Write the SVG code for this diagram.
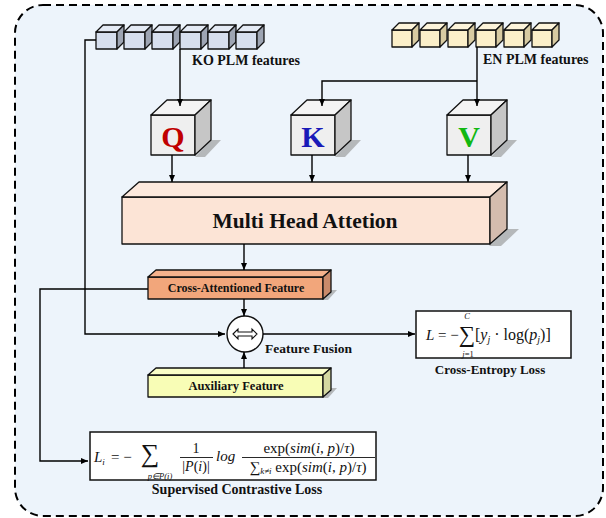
<svg xmlns="http://www.w3.org/2000/svg" width="606" height="518" viewBox="0 0 606 518">
<defs>
<marker id="ah" markerWidth="8" markerHeight="8" refX="7" refY="4" orient="auto" markerUnits="userSpaceOnUse">
<path d="M0,1 L7,4 L0,7 Z" fill="#000"/>
</marker>
<style>
.lbl{font-family:"Liberation Serif","Times New Roman",serif;font-weight:bold;fill:#111;}
.m{font-family:"Liberation Serif","Times New Roman",serif;fill:#111;}
.mi{font-family:"Liberation Serif","Times New Roman",serif;font-style:italic;fill:#111;}
.edge{fill:none;stroke:#000;stroke-width:1.4;}
.cs{stroke:#111;stroke-width:1.3;stroke-linejoin:round;}
.shadow{fill:#8f8f8f;opacity:0.6;}
</style>
</defs>
<rect x="0" y="0" width="606" height="518" fill="#fff"/>
<rect x="15" y="5" width="588" height="511" rx="28" fill="#EDF4FB" stroke="#000" stroke-width="2" stroke-dasharray="8,5"/>

<g id="ko-features">
<g class="cs">
<path d="M96,32 h21 v17 h-21 z" fill="#D7DFEE"/><path d="M96,32 l7,-7 h21 l-7,7 z" fill="#E4EAF4"/><path d="M117,32 l7,-7 v17 l-7,7 z" fill="#9EA5B3"/>
<path d="M124,32 h21 v17 h-21 z" fill="#D7DFEE"/><path d="M124,32 l7,-7 h21 l-7,7 z" fill="#E4EAF4"/><path d="M145,32 l7,-7 v17 l-7,7 z" fill="#9EA5B3"/>
<path d="M152,32 h21 v17 h-21 z" fill="#D7DFEE"/><path d="M152,32 l7,-7 h21 l-7,7 z" fill="#E4EAF4"/><path d="M173,32 l7,-7 v17 l-7,7 z" fill="#9EA5B3"/>
<path d="M180,32 h21 v17 h-21 z" fill="#D7DFEE"/><path d="M180,32 l7,-7 h21 l-7,7 z" fill="#E4EAF4"/><path d="M201,32 l7,-7 v17 l-7,7 z" fill="#9EA5B3"/>
<path d="M208,32 h21 v17 h-21 z" fill="#D7DFEE"/><path d="M208,32 l7,-7 h21 l-7,7 z" fill="#E4EAF4"/><path d="M229,32 l7,-7 v17 l-7,7 z" fill="#9EA5B3"/>
<path d="M236,32 h21 v17 h-21 z" fill="#D7DFEE"/><path d="M236,32 l7,-7 h21 l-7,7 z" fill="#E4EAF4"/><path d="M257,32 l7,-7 v17 l-7,7 z" fill="#9EA5B3"/>
</g>
<text class="lbl" x="192" y="65" font-size="14">KO PLM features</text>
</g>

<g id="en-features">
<g class="cs">
<path d="M392,30 h20 v17 h-20 z" fill="#FBEFC9"/><path d="M392,30 l7,-7 h20 l-7,7 z" fill="#FDF4DA"/><path d="M412,30 l7,-7 v17 l-7,7 z" fill="#D8CBA2"/>
<path d="M420,30 h20 v17 h-20 z" fill="#FBEFC9"/><path d="M420,30 l7,-7 h20 l-7,7 z" fill="#FDF4DA"/><path d="M440,30 l7,-7 v17 l-7,7 z" fill="#D8CBA2"/>
<path d="M448,30 h20 v17 h-20 z" fill="#FBEFC9"/><path d="M448,30 l7,-7 h20 l-7,7 z" fill="#FDF4DA"/><path d="M468,30 l7,-7 v17 l-7,7 z" fill="#D8CBA2"/>
<path d="M476,30 h20 v17 h-20 z" fill="#FBEFC9"/><path d="M476,30 l7,-7 h20 l-7,7 z" fill="#FDF4DA"/><path d="M496,30 l7,-7 v17 l-7,7 z" fill="#D8CBA2"/>
<path d="M504,30 h20 v17 h-20 z" fill="#FBEFC9"/><path d="M504,30 l7,-7 h20 l-7,7 z" fill="#FDF4DA"/><path d="M524,30 l7,-7 v17 l-7,7 z" fill="#D8CBA2"/>
<path d="M532,30 h20 v17 h-20 z" fill="#FBEFC9"/><path d="M532,30 l7,-7 h20 l-7,7 z" fill="#FDF4DA"/><path d="M552,30 l7,-7 v17 l-7,7 z" fill="#D8CBA2"/>
</g>
<text class="lbl" x="483" y="64" font-size="14">EN PLM features</text>
</g>

<g id="q">
<path d="M211,140 l10,0 l-16,17 h-10 z" class="shadow"/>
<g class="cs">
<path d="M151,115 h44 v40 h-44 z" fill="#EFEFEF"/>
<path d="M151,115 l16,-15 h44 l-16,15 z" fill="#F4F4F4"/>
<path d="M195,115 l16,-15 v40 l-16,15 z" fill="#C6C6C6"/>
</g>
<text class="lbl" x="173" y="147" font-size="30" text-anchor="middle" style="fill:#C00000">Q</text>
</g>

<g id="k">
<path d="M351,140 l10,0 l-16,17 h-10 z" class="shadow"/>
<g class="cs">
<path d="M291,115 h44 v40 h-44 z" fill="#EFEFEF"/>
<path d="M291,115 l16,-15 h44 l-16,15 z" fill="#F4F4F4"/>
<path d="M335,115 l16,-15 v40 l-16,15 z" fill="#C6C6C6"/>
</g>
<text class="lbl" x="313" y="147" font-size="30" text-anchor="middle" style="fill:#1A1AB8">K</text>
</g>

<g id="v">
<path d="M507,140 l10,0 l-16,17 h-10 z" class="shadow"/>
<g class="cs">
<path d="M447,115 h44 v40 h-44 z" fill="#EFEFEF"/>
<path d="M447,115 l16,-15 h44 l-16,15 z" fill="#F4F4F4"/>
<path d="M491,115 l16,-15 v40 l-16,15 z" fill="#C6C6C6"/>
</g>
<text class="lbl" x="469" y="147" font-size="30" text-anchor="middle" style="fill:#12B812">V</text>
</g>

<g id="mha">
<path d="M507,229 l12,0 l-18,17 h-12 z" class="shadow"/>
<g class="cs">
<path d="M122,197 h368 v47 h-368 z" fill="#FCE4D6"/>
<path d="M122,197 l17,-15 h368 l-17,15 z" fill="#FDE9DD"/>
<path d="M490,197 l17,-15 v47 l-17,15 z" fill="#D4BCAE"/>
</g>
<text class="lbl" x="305" y="228" font-size="21.5" text-anchor="middle">Multi Head Attetion</text>
</g>

<g id="cross-attn">
<path d="M331,290 l6,0 l-9,10 h-6 z" class="shadow"/>
<g class="cs">
<path d="M148,277 h175 v22 h-175 z" fill="#F2A67B"/>
<path d="M148,277 l8,-7 h175 l-8,7 z" fill="#F5B28C"/>
<path d="M323,277 l8,-7 v22 l-8,7 z" fill="#C98A6A"/>
</g>
<text class="lbl" x="236" y="292" font-size="12" text-anchor="middle">Cross-Attentioned Feature</text>
</g>

<g id="fusion">
<circle cx="245" cy="334" r="18" fill="#fff" stroke="#111" stroke-width="1.4"/>
<path d="M233,334 l5,-5 v3 h14 v-3 l5,5 l-5,5 v-3 h-14 v3 z" fill="#fff" stroke="#111" stroke-width="1.1" stroke-linejoin="miter"/>
<text class="lbl" x="265" y="353" font-size="13.5">Feature Fusion</text>
</g>

<g id="aux">
<path d="M331,388 l6,0 l-9,10 h-6 z" class="shadow"/>
<g class="cs">
<path d="M148,375 h175 v22 h-175 z" fill="#F8FDB6"/>
<path d="M148,375 l8,-7 h175 l-8,7 z" fill="#FAFEC8"/>
<path d="M323,375 l8,-7 v22 l-8,7 z" fill="#D4D8A0"/>
</g>
<text class="lbl" x="236" y="390" font-size="12.5" text-anchor="middle">Auxiliary Feature</text>
</g>

<g id="ce-loss">
<rect x="416" y="311" width="155" height="47" fill="#fff" stroke="#111" stroke-width="1.5"/>
<text class="mi" x="426" y="340" font-size="15">L</text>
<text class="m" x="438" y="340" font-size="15">= −</text>
<text class="m" x="467" y="342" font-size="23" text-anchor="middle">∑</text>
<text class="mi" x="467" y="319" font-size="8.5" text-anchor="middle">C</text>
<text class="m" x="468" y="357" font-size="8.5" text-anchor="middle"><tspan class="mi">j</tspan>=1</text>
<text class="m" x="475" y="340" font-size="16">[<tspan class="mi">y</tspan><tspan class="mi" font-size="10" dy="3">j</tspan><tspan dy="-3"> · log(</tspan><tspan class="mi">p</tspan><tspan class="mi" font-size="10" dy="3">j</tspan><tspan dy="-3">)]</tspan></text>
<text class="lbl" x="490" y="374" font-size="13" text-anchor="middle">Cross-Entropy Loss</text>
</g>

<g id="scl-loss">
<rect x="90" y="432" width="286" height="48" fill="#fff" stroke="#111" stroke-width="1.5"/>
<text class="mi" x="94" y="462" font-size="15">L<tspan font-size="9" dy="3">i</tspan></text>
<text class="m" x="111" y="462" font-size="15">= −</text>
<text class="m" x="150" y="462" font-size="26" text-anchor="middle">∑</text>
<text class="mi" x="160" y="479" font-size="8.5" text-anchor="middle">p∈P(i)</text>
<text class="m" x="196" y="453" font-size="14" text-anchor="middle">1</text>
<line x1="180" y1="457.5" x2="213" y2="457.5" stroke="#111" stroke-width="0.9"/>
<text class="m" x="196" y="471" font-size="14" text-anchor="middle">|<tspan class="mi">P</tspan>(<tspan class="mi">i</tspan>)|</text>
<text class="mi" x="216" y="461" font-size="15">log</text>
<text class="m" x="309" y="453" font-size="15" text-anchor="middle">exp(<tspan class="mi">sim</tspan>(<tspan class="mi">i</tspan>, <tspan class="mi">p</tspan>)/<tspan class="mi">τ</tspan>)</text>
<line x1="242" y1="457.5" x2="375" y2="457.5" stroke="#111" stroke-width="0.9"/>
<text class="m" x="308" y="472" font-size="15" text-anchor="middle">∑<tspan class="mi" font-size="9" dy="2">k≠i</tspan><tspan dy="-2"> exp(</tspan><tspan class="mi">sim</tspan>(<tspan class="mi">i</tspan>, <tspan class="mi">p</tspan>)/<tspan class="mi">τ</tspan>)</text>
<text class="lbl" x="237" y="494" font-size="14" text-anchor="middle">Supervised Contrastive Loss</text>
</g>

<g id="connectors">
<path class="edge" d="M96,40 H85 V334 H225" marker-end="url(#ah)"/>
<path class="edge" d="M180,49 V106" marker-end="url(#ah)"/>
<path class="edge" d="M477,47 V106" marker-end="url(#ah)"/>
<path class="edge" d="M477,81 H322 V106" marker-end="url(#ah)"/>
<path class="edge" d="M172,155 V182" marker-end="url(#ah)"/>
<path class="edge" d="M312,155 V182" marker-end="url(#ah)"/>
<path class="edge" d="M468,155 V182" marker-end="url(#ah)"/>
<path class="edge" d="M244,244 V270" marker-end="url(#ah)"/>
<path class="edge" d="M244,299 V316" marker-end="url(#ah)"/>
<path class="edge" d="M244,368 V352" marker-end="url(#ah)"/>
<path class="edge" d="M263,334 H415" marker-end="url(#ah)"/>
<path class="edge" d="M148,289 H40 V461 H88" marker-end="url(#ah)"/>
</g>
</svg>
